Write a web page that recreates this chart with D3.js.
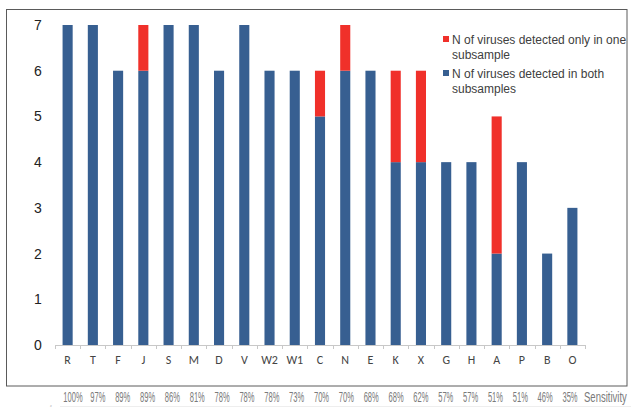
<!DOCTYPE html>
<html>
<head>
<meta charset="utf-8">
<script src="https://cdn.jsdelivr.net/npm/d3@7"></script>
<style>
  body { margin: 0; background: #fff; }
  svg { display: block; }
</style>
</head>
<body>
<div id="chart"></div>
<script>
// chart data
const strains = ["R","T","F","J","S","M","D","V","W2","W1","C","N","E","K","X","G","H","A","P","B","O"];
const both    = [7,7,6,6,7,7,6,7,6,6,5,6,6,4,4,4,4,2,4,2,3];
const onlyOne = [0,0,0,1,0,0,0,0,0,0,1,1,0,2,2,0,0,3,0,0,0];
const sensitivity = ["100%","97%","89%","89%","86%","81%","78%","78%","78%","73%","70%","70%","68%","68%","62%","57%","57%","51%","51%","46%","35%"];
const yTicks = [0,1,2,3,4,5,6,7];
const legendText = [
  ["N of viruses detected only in one", "subsample"],
  ["N of viruses detected in both", "subsamples"]
];

const width = 631, height = 411;
const margin = {left: 55, right: 46, top: 25, bottom: 66};
const blue = "#375f91", red = "#f0302a";

const svg = d3.select("#chart").append("svg")
  .attr("width", width)
  .attr("height", height);

// outer frame
svg.append("rect")
  .attr("x", 6.5).attr("y", 9.5)
  .attr("width", 620.5).attr("height", 376.5)
  .attr("fill", "none")
  .attr("stroke", "#5a5a5a");

const x = d3.scaleBand()
  .domain(strains)
  .range([margin.left, width - margin.right])
  .paddingInner(0.6)
  .paddingOuter(0.3);

const y = d3.scaleLinear()
  .domain([0, 7])
  .range([height - margin.bottom, margin.top]);

// stack the two series
const rows = strains.map((s, i) => ({name: s, both: both[i], only: onlyOne[i]}));
const stack = d3.stack().keys(["both", "only"])(rows);
const colors = {both: blue, only: red};

svg.append("g").selectAll("g")
  .data(stack)
  .join("g")
    .attr("fill", d => colors[d.key])
  .selectAll("rect")
  .data(d => d)
  .join("rect")
    .attr("x", d => x(d.data.name))
    .attr("width", x.bandwidth())
    .attr("y", d => y(d[1]))
    .attr("height", d => y(d[0]) - y(d[1]));

// x axis: line with ticks between categories
const xAxisY = y(0);
const axisG = svg.append("g");
axisG.append("line")
  .attr("x1", margin.left).attr("x2", width - margin.right)
  .attr("y1", xAxisY + 0.5).attr("y2", xAxisY + 0.5)
  .attr("stroke", "#c8c8c8");
d3.range(strains.length + 1).forEach(i => {
  const tx = Math.round(margin.left + (width - margin.left - margin.right) * i / strains.length) + 0.5;
  axisG.append("line")
    .attr("x1", tx).attr("x2", tx)
    .attr("y1", xAxisY).attr("y2", xAxisY + 4)
    .attr("stroke", "#c8c8c8");
});
axisG.selectAll("text.cat")
  .data(strains)
  .join("text")
    .attr("class", "cat")
    .attr("x", d => x(d) + x.bandwidth() / 2)
    .attr("y", xAxisY + 19)
    .attr("text-anchor", "middle")
    .attr("font-family", "Carlito, 'Liberation Sans', sans-serif")
    .attr("font-size", 12)
    .attr("fill", "#444")
    .text(d => d);

// y axis labels, no line
svg.append("g").selectAll("text")
  .data(yTicks)
  .join("text")
    .attr("x", 38)
    .attr("y", d => y(d) + 5)
    .attr("text-anchor", "middle")
    .attr("font-family", "'Liberation Sans', Arial, sans-serif")
    .attr("font-size", 14)
    .attr("fill", "#222")
    .text(d => d);

// legend
const legend = svg.append("g");
[red, blue].forEach((c, i) => {
  const ly = 40 + i * 34;
  legend.append("rect")
    .attr("x", 443).attr("y", ly - 4)
    .attr("width", 6).attr("height", 6)
    .attr("fill", c);
  legendText[i].forEach((t, j) => {
    legend.append("text")
      .attr("x", 452)
      .attr("y", ly + 4 + j * 15)
      .attr("font-family", "'Liberation Sans', Arial, sans-serif")
      .attr("font-size", 12)
      .attr("fill", "#404040")
      .text(t);
  });
});

// sensitivity row under the frame (condensed text via horizontal scale)
const sx = d3.scalePoint()
  .domain(d3.range(sensitivity.length))
  .range([73, 570]);
const sens = svg.append("g")
  .attr("font-family", "'Liberation Sans', sans-serif")
  .attr("font-size", 14)
  .attr("fill", "#7a7a7a");
sens.selectAll("text")
  .data(sensitivity)
  .join("text")
    .attr("transform", (d, i) => `translate(${sx(i)},402) scale(0.54,1)`)
    .attr("text-anchor", "middle")
    .text(d => d);
sens.append("text")
  .attr("transform", "translate(584,402) scale(0.68,1)")
  .text("Sensitivity");

svg.append("line")
  .attr("x1", 60).attr("x2", 631)
  .attr("y1", 406.5).attr("y2", 406.5)
  .attr("stroke", "#eeeeee");
svg.append("text")
  .attr("x", 50).attr("y", 409)
  .attr("font-size", 6)
  .attr("fill", "#999")
  .text("ª");
</script>
</body>
</html>
